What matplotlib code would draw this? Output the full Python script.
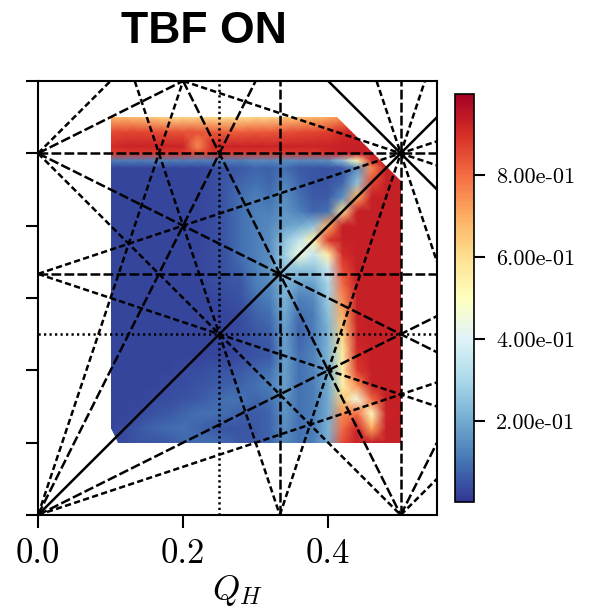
import numpy as np
import matplotlib
matplotlib.use('Agg')
import matplotlib.pyplot as plt
from matplotlib.patches import Polygon
from matplotlib.colors import Normalize

plt.rcParams['mathtext.fontset'] = 'cm'
plt.rcParams['axes.unicode_minus'] = False

# scan grid (tunes) and measured values
q_h = [0.10, 0.12, 0.14, 0.16, 0.18, 0.20, 0.22, 0.24, 0.26, 0.28, 0.30,
       0.32, 0.34, 0.36, 0.38, 0.40, 0.42, 0.44, 0.46, 0.48, 0.50]
q_v = [0.10, 0.12, 0.14, 0.16, 0.18, 0.20, 0.22, 0.24, 0.26, 0.28, 0.30,
       0.32, 0.34, 0.36, 0.38, 0.40, 0.42, 0.44, 0.46, 0.48, 0.49, 0.50,
       0.51, 0.53, 0.55]
loss = [
    [.04, .04, .05, .05, .06, .08, .09, .10, .08, .06, .06, .08, .14, .10, .12, .20, .85, .93, .93, .93, .93],
    [.03, .04, .06, .08, .09, .10, .08, .06, .05, .05, .06, .08, .15, .10, .12, .22, .80, .92, .70, .93, .93],
    [.03, .03, .04, .05, .06, .08, .10, .10, .09, .07, .06, .08, .16, .10, .12, .20, .75, .80, .50, .92, .93],
    [.03, .03, .03, .04, .04, .05, .06, .08, .10, .10, .08, .10, .16, .10, .12, .20, .65, .45, .80, .93, .93],
    [.03, .03, .03, .03, .04, .04, .05, .06, .07, .08, .10, .12, .18, .10, .12, .20, .55, .75, .93, .93, .93],
    [.03, .03, .03, .03, .03, .04, .04, .05, .05, .06, .08, .10, .18, .10, .13, .20, .55, .88, .93, .93, .93],
    [.03, .03, .03, .03, .03, .03, .03, .03, .03, .04, .05, .06, .18, .10, .13, .22, .55, .90, .93, .93, .93],
    [.03, .03, .03, .03, .03, .03, .03, .03, .03, .04, .05, .06, .18, .08, .12, .22, .60, .92, .93, .93, .93],
    [.03, .03, .03, .03, .03, .03, .03, .03, .03, .04, .06, .08, .18, .08, .12, .22, .65, .92, .93, .93, .93],
    [.03, .03, .03, .03, .03, .03, .03, .03, .03, .04, .08, .10, .20, .10, .12, .25, .70, .93, .93, .93, .93],
    [.03, .03, .03, .03, .03, .03, .03, .03, .04, .05, .10, .12, .22, .12, .14, .28, .75, .93, .93, .93, .93],
    [.03, .03, .03, .03, .03, .03, .03, .04, .05, .06, .12, .14, .22, .18, .18, .30, .80, .93, .93, .93, .93],
    [.03, .03, .03, .03, .03, .03, .03, .04, .05, .08, .12, .16, .25, .25, .25, .35, .85, .93, .93, .93, .93],
    [.03, .03, .03, .03, .03, .03, .03, .04, .05, .10, .12, .15, .28, .45, .35, .55, .90, .93, .93, .93, .93],
    [.03, .03, .03, .03, .03, .03, .03, .04, .06, .10, .12, .15, .25, .35, .55, .88, .93, .93, .93, .93, .93],
    [.03, .03, .03, .03, .03, .03, .03, .04, .06, .10, .12, .14, .18, .20, .25, .70, .93, .93, .93, .93, .93],
    [.03, .03, .03, .03, .03, .03, .03, .04, .06, .10, .12, .12, .16, .12, .08, .10, .60, .93, .93, .93, .93],
    [.03, .03, .03, .03, .03, .03, .03, .04, .06, .10, .12, .10, .15, .10, .06, .06, .15, .70, .93, .93, .93],
    [.03, .03, .03, .03, .03, .03, .03, .04, .06, .08, .10, .08, .13, .08, .05, .05, .08, .25, .85, .93, .93],
    [.03, .03, .03, .03, .03, .03, .03, .04, .05, .06, .08, .07, .10, .06, .05, .05, .06, .15, .75, .93, .93],
    [.12, .12, .12, .12, .12, .12, .12, .12, .12, .12, .14, .14, .15, .14, .14, .15, .25, .50, .90, .93, .93],
    [.88, .88, .88, .88, .88, .88, .85, .88, .88, .88, .88, .88, .88, .88, .88, .90, .92, .93, .93, .93, .93],
    [.90, .92, .92, .92, .92, .92, .75, .90, .92, .92, .92, .92, .92, .92, .92, .92, .93, .93, .93, .93, .93],
    [.85, .86, .86, .85, .84, .84, .84, .83, .82, .82, .83, .83, .84, .85, .86, .87, .90, .92, .93, .93, .93],
    [.68, .68, .66, .64, .62, .62, .62, .60, .60, .60, .62, .62, .64, .66, .68, .70, .75, .82, .90, .93, .93],
]

# outline of the scanned area
scan_x = [0.10, 0.11, 0.50, 0.50, 0.412, 0.10]
scan_y = [0.12, 0.10, 0.10, 0.462, 0.55, 0.55]

# resonance lines m*Qh + n*Qv = p
res_m = [1, 1, 2, 0, 3, 0, 2, 1, 2, 1, 2, 1, 4, 0, 3, 1, 2, 3, 1, 3, 1, 2, 2, 3, 1]
res_n = [-1, 1, 0, 2, 0, 3, 1, 2, -1, -2, -1, -2, 0, 4, 1, 3, 2, -1, -3, -1, -3, -2, -2, 1, 3]
res_p = [0, 1, 1, 1, 1, 1, 1, 1, 0, 0, 1, -1, 1, 1, 1, 1, 1, 0, 0, 1, -1, 1, -1, 2, 2]
res_kind = ['c2', 'c2', 'u', 'u', 'u', 'u', 'c3', 'c3', 'c3', 'c3', 'c3', 'c3',
            'u4', 'u4', 'c4', 'c4', 'c4', 'c4', 'c4', 'c4', 'c4', 'c4', 'c4', 'c4', 'c4']
styles = {'c2': '-', 'u': (0, (3.9, 1.3)), 'c3': (0, (3.9, 1.3)),
          'c4': (0, (2.5, 1.3)), 'u4': (0, (0.9, 1.3))}

fig = plt.figure(figsize=(6.02, 6.12), dpi=100)
ax = fig.add_axes([38 / 602, 1 - 515 / 612, 399 / 602, 434 / 612])
cax = fig.add_axes([455 / 602, 1 - 502 / 612, 19 / 602, 408 / 612])

norm = Normalize(vmin=0.003, vmax=0.997)
mesh = ax.pcolormesh(q_h, q_v, np.array(loss), cmap='RdYlBu_r', norm=norm,
                     shading='gouraud', zorder=1)
hull = Polygon(np.column_stack([scan_x, scan_y]), closed=True,
               transform=ax.transData, facecolor='none', edgecolor='none')
ax.add_patch(hull)
mesh.set_clip_path(hull)

for m, n, p, k in zip(res_m, res_n, res_p, res_kind):
    kw = dict(color='black', lw=1.8, ls=styles[k], zorder=3)
    if n == 0:
        ax.axvline(p / m, **kw)
    else:
        ax.axline((0, p / n), slope=-m / n, **kw)

ax.set_xlim(0, 0.55)
ax.set_ylim(0, 0.6)
ax.set_xticks([0.0, 0.2, 0.4])
ax.set_xticklabels(['0.0', '0.2', '0.4'], fontfamily='cmr10', fontsize=25)
ax.set_yticks([0.0, 0.1, 0.2, 0.3, 0.4, 0.5, 0.6])
ax.set_yticklabels([])
ax.tick_params(direction='out', length=9, width=1.5, pad=8)
for s in ax.spines.values():
    s.set_linewidth(1.5)
ax.set_xlabel('$Q_H$', fontsize=25, labelpad=2)

cb = fig.colorbar(mesh, cax=cax, ticks=[0.2, 0.4, 0.6, 0.8], format='%.2e')
cb.outline.set_linewidth(1.2)
cax.tick_params(length=8, width=1.5, pad=8)
for lab in cax.get_yticklabels():
    lab.set_fontfamily('cmr10')
    lab.set_fontsize(16)

fig.text(204 / 602, 1 - 43 / 612, 'TBF ON', ha='center', va='baseline',
         fontsize=32, fontweight='bold',
         family=['Liberation Sans Narrow', 'Liberation Sans'])

fig.savefig('out.png', dpi=100)
